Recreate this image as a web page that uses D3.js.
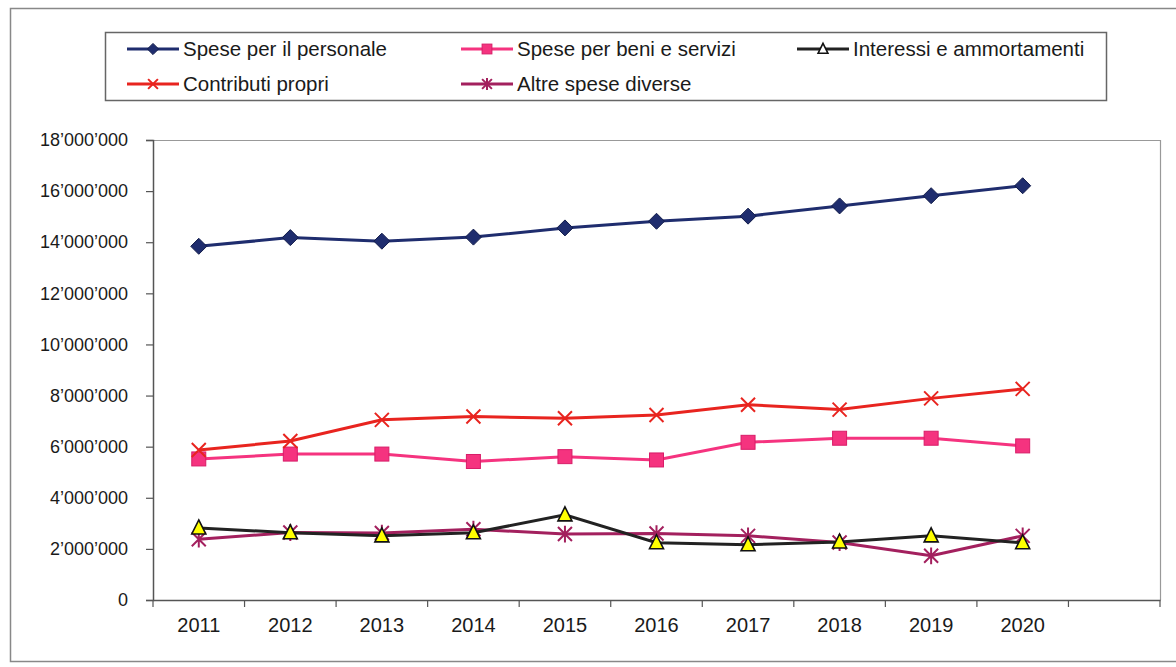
<!DOCTYPE html>
<html><head><meta charset="utf-8">
<script src="https://cdn.jsdelivr.net/npm/d3@7"></script>
<style>body{margin:0;background:#fff;} text{font-family:"Liberation Sans",Arial,sans-serif;fill:#1a1a1a;}</style>
</head><body><svg id="c" width="1176" height="667"></svg>
<script>
const years = ["2011","2012","2013","2014","2015","2016","2017","2018","2019","2020"];
const bandCats = years.concat([""]);
const personale = [13.84,14.18,14.04,14.20,14.56,14.82,15.02,15.42,15.82,16.21].map(v=>v*1e6);
const beni      = [5.52,5.71,5.71,5.42,5.61,5.48,6.17,6.33,6.33,6.03].map(v=>v*1e6);
const interessi = [2.82,2.63,2.51,2.63,3.33,2.24,2.16,2.27,2.51,2.24].map(v=>v*1e6);
const contributi= [5.87,6.22,7.05,7.18,7.11,7.24,7.64,7.45,7.89,8.26].map(v=>v*1e6);
const altre     = [2.38,2.64,2.62,2.77,2.58,2.60,2.51,2.25,1.73,2.51].map(v=>v*1e6);
const yTicks = [0,2e6,4e6,6e6,8e6,10e6,12e6,14e6,16e6,18e6];
const seriesNames = ["Spese per il personale","Spese per beni e servizi","Interessi e ammortamenti","Contributi propri","Altre spese diverse"];

const series = [
  {name:seriesNames[0], data:personale, color:"#1f2d6e", marker:"diamond"},
  {name:seriesNames[1], data:beni, color:"#f5337f", marker:"square"},
  {name:seriesNames[2], data:interessi, color:"#222222", marker:"triangle"},
  {name:seriesNames[3], data:contributi, color:"#e8241f", marker:"x"},
  {name:seriesNames[4], data:altre, color:"#a3205e", marker:"star"}
];
const drawOrder = [0,1,3,4,2];

const svg = d3.select("#c");
svg.append("rect").attr("x",10.5).attr("y",8.5).attr("width",1180).attr("height",653)
  .attr("fill","none").attr("stroke","#888").attr("stroke-width",1.5);

const x = d3.scaleBand().domain(bandCats).range([153,1160]).padding(0);
const y = d3.scaleLinear().domain([0,18e6]).range([600,140]);

svg.append("path").attr("d",`M153,140.5H1160.5V600`).attr("fill","none").attr("stroke","#999").attr("stroke-width",1.2);

const fmt = v => v===0 ? "0" : d3.format(",")(v).replace(/,/g,"’");
const ya = svg.append("g").attr("transform","translate(153,0)")
  .call(d3.axisLeft(y).tickValues(yTicks).tickFormat(fmt).tickSize(7).tickPadding(18));
ya.select(".domain").attr("stroke","#555").attr("stroke-width",1.5);
ya.selectAll(".tick line").attr("stroke","#555").attr("stroke-width",1.2);
ya.selectAll("text").attr("font-size",18).attr("fill","#1a1a1a").attr("font-family","Liberation Sans, Arial, sans-serif");

const xa = svg.append("g").attr("transform","translate(0,600)")
  .call(d3.axisBottom(x).tickSize(0).tickPadding(18));
xa.select(".domain").attr("stroke","#555").attr("stroke-width",1.5);
xa.selectAll("text").attr("font-size",20).attr("fill","#1a1a1a").attr("font-family","Liberation Sans, Arial, sans-serif");
const edges = bandCats.map(c=>x(c)).concat([x.range()[1]]);
svg.append("g").selectAll("line").data(edges).join("line")
  .attr("x1",d=>d).attr("x2",d=>d).attr("y1",600).attr("y2",607)
  .attr("stroke","#555").attr("stroke-width",1.2);

const cx = c => x(c) + x.bandwidth()/2;

function drawMarker(g, type, color, px, py, s){
  s = s||1;
  if(type==="diamond"){
    g.append("path").attr("d",`M${px},${py-8*s}L${px+8*s},${py}L${px},${py+8*s}L${px-8*s},${py}Z`)
      .attr("fill",color).attr("stroke","#121c4a").attr("stroke-width",1);
  } else if(type==="square"){
    g.append("rect").attr("x",px-7*s).attr("y",py-7*s).attr("width",14*s).attr("height",14*s)
      .attr("fill",color).attr("stroke","#d81d68").attr("stroke-width",1);
  } else if(type==="triangle"){
    g.append("path").attr("d",`M${px},${py-8*s}L${px+7*s},${py+6*s}L${px-7*s},${py+6*s}Z`)
      .attr("fill",s<1?"#fff":"#ffff00").attr("stroke","#111").attr("stroke-width",1.6);
  } else if(type==="x"){
    const r=7*s;
    g.append("path").attr("d",`M${px-r},${py-r}L${px+r},${py+r}M${px-r},${py+r}L${px+r},${py-r}`)
      .attr("stroke",color).attr("stroke-width",2).attr("fill","none");
  } else if(type==="star"){
    const r=7*s;
    g.append("path").attr("d",`M${px-r},${py-r}L${px+r},${py+r}M${px-r},${py+r}L${px+r},${py-r}M${px},${py-r*1.2}V${py+r*1.2}`)
      .attr("stroke",color).attr("stroke-width",2).attr("fill","none");
  }
}

const line = d3.line().x((d,i)=>cx(years[i])).y(d=>y(d));
drawOrder.forEach(k=>{
  const s = series[k];
  const g = svg.append("g");
  g.append("path").attr("d",line(s.data)).attr("fill","none").attr("stroke",s.color).attr("stroke-width",3);
  s.data.forEach((v,i)=>drawMarker(g,s.marker,s.color,cx(years[i]),y(v)));
});

svg.append("rect").attr("x",105.5).attr("y",32.5).attr("width",1001).attr("height",68)
  .attr("fill","#fff").attr("stroke","#666").attr("stroke-width",1.5);
const legPos = [[127,49],[461,49],[797,49],[127,84],[461,84]];
series.forEach((s,k)=>{
  const [lx,ly] = legPos[k];
  const g = svg.append("g");
  g.append("line").attr("x1",lx).attr("x2",lx+52).attr("y1",ly).attr("y2",ly).attr("stroke",s.color).attr("stroke-width",3);
  drawMarker(g,s.marker,s.color,lx+26,ly,0.7);
  g.append("text").attr("x",lx+56).attr("y",ly+7).attr("font-size",20.5).text(s.name);
});
</script></body></html>
